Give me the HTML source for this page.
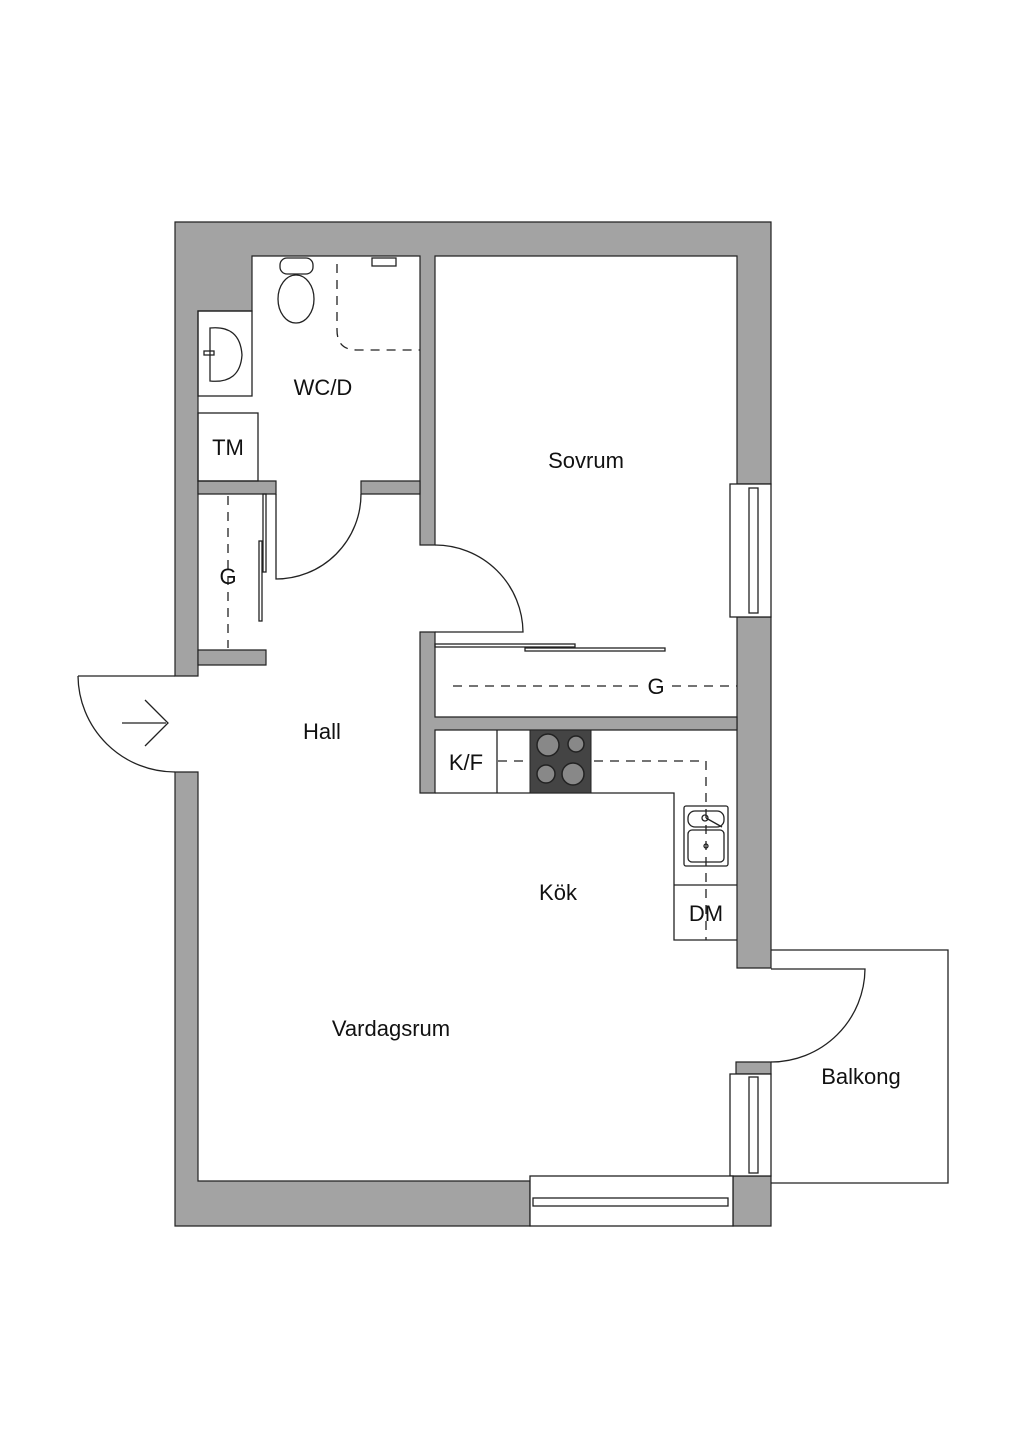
<!DOCTYPE html>
<html><head><meta charset="utf-8"><style>
body{margin:0;background:#fff}
svg{display:block}
text{font-family:"Liberation Sans",sans-serif;font-size:22px;fill:#111}
</style></head><body>
<svg width="1024" height="1448" viewBox="0 0 1024 1448" xmlns="http://www.w3.org/2000/svg">
<g fill="#a3a3a3" stroke="#222" stroke-width="1.2">
<!-- outer walls -->
<path d="M175,222 H771 V484 H737 V256 H435 V545 H420 V256 H252 V311 H198 V676 H175 Z"/>
<path d="M175,772 H198 V1181 H530 V1226 H175 Z"/>
<path d="M737,617 H771 V968 H737 Z"/>
<path d="M733,1176 H771 V1226 H733 Z"/>
<path d="M736,1062 H771 V1074 H736 Z"/>
<!-- interior walls -->
<path d="M198,481 H276 V494 H198 Z"/>
<path d="M361,481 H420 V494 H361 Z"/>
<path d="M198,650 H266 V665 H198 Z"/>
<path d="M420,632 H435 V717 H737 V730 H435 V793 H420 Z"/>
</g>
<g fill="none" stroke="#222" stroke-width="1.3">
<!-- windows -->
<rect x="730" y="484" width="41" height="133" fill="#fff"/>
<rect x="749" y="488" width="9" height="125"/>
<rect x="730" y="1074" width="41" height="102" fill="#fff"/>
<rect x="749" y="1077" width="9" height="96"/>
<rect x="530" y="1176" width="203" height="50" fill="#fff"/>
<rect x="533" y="1198" width="195" height="8"/>
<!-- doors -->
<path d="M361,494 A85,85 0 0 1 276,579 V494"/>
<path d="M435,545 A88,88 0 0 1 523,632 H435"/>
<path d="M78,676 H175 M78,676 A97,97 0 0 0 175,772"/>
<path d="M771,969 H865 A94,94 0 0 1 771,1062"/>
<!-- arrow -->
<path d="M122,723 H166 M145,700 L168,723 L145,746"/>
<!-- balcony -->
<path d="M771,950 H948 V1183 H771"/>
<!-- bath fixtures -->
<rect x="198" y="311" width="54" height="85"/>
<path d="M210,328 Q240,325 242,355 Q240,384 210,381 Z"/>
<rect x="204" y="351" width="10" height="4"/>
<rect x="198" y="413" width="60" height="68"/>
<ellipse cx="296" cy="299" rx="18" ry="24"/>
<rect x="280" y="258" width="33" height="16" rx="7"/>
<path d="M337,264 V330 Q337,350 357,350 H420" stroke-dasharray="9,7"/>
<rect x="372" y="258" width="24" height="8"/>
<!-- G closet -->
<path d="M228,496 V648" stroke-dasharray="9,7"/>
<rect x="263" y="494" width="3" height="78"/>
<rect x="259" y="541" width="3" height="80"/>
<!-- bedroom wardrobe -->
<rect x="435" y="644" width="140" height="3"/>
<rect x="525" y="648" width="140" height="3"/>
<path d="M453,686 H640 M672,686 H737" stroke-dasharray="9,7"/>
<!-- kitchen -->
<path d="M435,793 H674 V940 H737" />
<path d="M497,730 V793"/>
<path d="M674,885 H737"/>
<path d="M498,761 H706 V940" stroke-dasharray="9,7"/>
<rect x="684" y="806" width="44" height="60" rx="2"/>
<rect x="688" y="811" width="36" height="16" rx="7"/>
<rect x="688" y="830" width="36" height="32" rx="4"/>
<circle cx="706" cy="846" r="2"/>
<circle cx="705" cy="818" r="3"/>
<path d="M706,818 L722,827"/>
</g>
<rect x="530" y="730" width="61" height="63" fill="#444" stroke="#222"/>
<g fill="#888" stroke="#222" stroke-width="1.5">
<circle cx="548" cy="745" r="11"/><circle cx="576" cy="744" r="8"/>
<circle cx="546" cy="774" r="9"/><circle cx="573" cy="774" r="11"/>
</g>
<text x="323" y="395" text-anchor="middle">WC/D</text>
<text x="228" y="455" text-anchor="middle">TM</text>
<text x="586" y="468" text-anchor="middle">Sovrum</text>
<text x="228" y="584" text-anchor="middle">G</text>
<text x="656" y="694" text-anchor="middle">G</text>
<text x="322" y="739" text-anchor="middle">Hall</text>
<text x="466" y="770" text-anchor="middle">K/F</text>
<text x="558" y="900" text-anchor="middle">Kök</text>
<text x="706" y="921" text-anchor="middle">DM</text>
<text x="391" y="1036" text-anchor="middle">Vardagsrum</text>
<text x="861" y="1084" text-anchor="middle">Balkong</text>
</svg>
</body></html>
